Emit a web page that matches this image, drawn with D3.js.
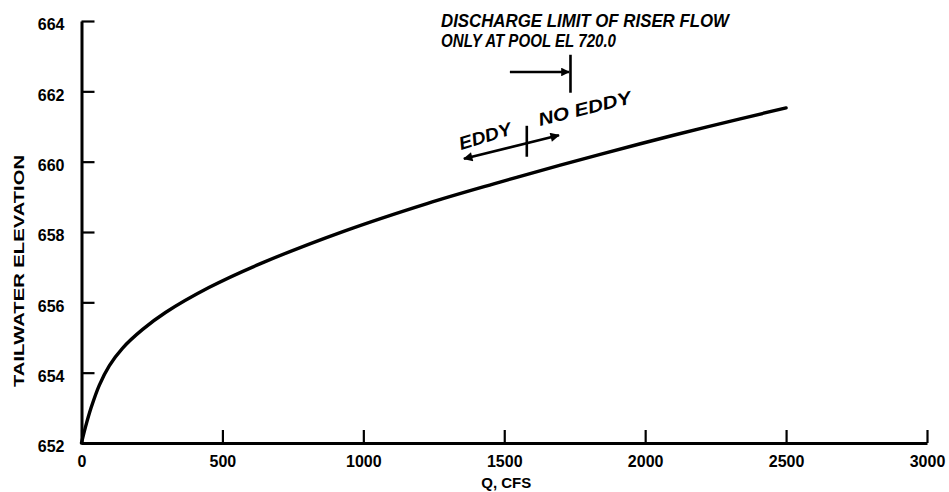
<!DOCTYPE html>
<html>
<head>
<meta charset="utf-8">
<script src="https://cdn.jsdelivr.net/npm/d3@7"></script>
<style>
  html, body { margin: 0; padding: 0; background: #fff; }
  svg { display: block; }
  text { font-family: "Liberation Sans", Arial, sans-serif; fill: #000; }
</style>
</head>
<body>
<svg id="chart" width="949" height="492"></svg>
<script>
// ---- data ----
const flowQ = [0, 14, 34, 63, 99, 146, 217, 298, 452, 635, 930, 1226, 1463, 1699, 1983, 2220, 2500];
const tailwaterEl = [652.0, 652.45, 653.00, 653.64, 654.20, 654.70, 655.23, 655.71, 656.42, 657.10, 658.02, 658.81, 659.37, 659.90, 660.51, 660.99, 661.53];
const xTicks = [0, 500, 1000, 1500, 2000, 2500, 3000];
const yTicks = [652, 654, 656, 658, 660, 662, 664];
// annotation values (data space)
const riserLimitQ = 1735;
const riserArrowStartQ = 1520;
const riserArrowEl = 662.55;
const riserBarEl = [661.96, 663.04];
const eddyArrowQ = [1357, 1694];
const eddyArrowEl = [660.08, 660.75];
const eddySplitQ = 1580;
const eddySplitEl = [660.14, 661.02];
const titleLines = ["DISCHARGE LIMIT OF RISER FLOW", "ONLY AT POOL EL 720.0"];

// ---- layout ----
const svg = d3.select("#chart");
const x = d3.scaleLinear().domain([0, 3000]).range([81.5, 927]);
const y = d3.scaleLinear().domain([652, 664]).range([443, 21]);

// defs: arrowheads
const defs = svg.append("defs");
defs.append("marker").attr("id", "arrowEnd")
  .attr("viewBox", "0 0 10 10").attr("refX", 9).attr("refY", 5)
  .attr("markerWidth", 6).attr("markerHeight", 3.6).attr("markerUnits", "strokeWidth")
  .attr("orient", "auto")
  .append("path").attr("d", "M0,0 L10,5 L0,10 Z").attr("fill", "#000");
defs.append("marker").attr("id", "arrowStart")
  .attr("viewBox", "0 0 10 10").attr("refX", 1).attr("refY", 5)
  .attr("markerWidth", 6).attr("markerHeight", 3.6).attr("markerUnits", "strokeWidth")
  .attr("orient", "auto")
  .append("path").attr("d", "M10,0 L0,5 L10,10 Z").attr("fill", "#000");

// axes
const xAxis = d3.axisBottom(x).tickValues(xTicks).tickSizeInner(-13).tickSizeOuter(0).tickPadding(12).tickFormat(d3.format("d"));
const yAxis = d3.axisLeft(y).tickValues(yTicks).tickSizeInner(-13).tickSizeOuter(0).tickPadding(17).tickFormat(d3.format("d"));

const gx = svg.append("g").attr("transform", `translate(0,${y(652)})`).call(xAxis);
const gy = svg.append("g").attr("transform", `translate(${x(0)},0)`).call(yAxis);

[gx, gy].forEach(g => {
  g.select(".domain").attr("stroke", "#000").attr("stroke-width", 3);
  g.selectAll(".tick line").attr("stroke", "#000").attr("stroke-width", 2.2);
  g.selectAll(".tick text").attr("font-size", 16).attr("font-weight", "bold")
    .attr("font-family", "'Liberation Sans', Arial, sans-serif").attr("fill", "#000");
});
gy.selectAll(".tick text").attr("dy", "0.55em");
gx.selectAll(".tick text").attr("dy", "0.72em");

// axis titles
svg.append("text")
  .attr("x", (x(0) + x(3000)) / 2 + 2).attr("y", 488)
  .attr("text-anchor", "middle").attr("font-size", 15).attr("font-weight", "bold")
  .text("Q, CFS");
svg.append("text")
  .attr("transform", `translate(24, 271) rotate(-90)`)
  .attr("text-anchor", "middle").attr("font-size", 15).attr("font-weight", "bold")
  .attr("textLength", 232).attr("lengthAdjust", "spacingAndGlyphs")
  .text("TAILWATER ELEVATION");

// curve
const line = d3.line().x(d => x(d[0])).y(d => y(d[1])).curve(d3.curveCatmullRom.alpha(0.5));
svg.append("path")
  .datum(flowQ.map((q, i) => [q, tailwaterEl[i]]))
  .attr("d", line)
  .attr("fill", "none").attr("stroke", "#000").attr("stroke-width", 3.4)
  .attr("stroke-linecap", "round").attr("stroke-linejoin", "round");

// riser-limit annotation
svg.append("line")
  .attr("x1", x(riserArrowStartQ)).attr("y1", y(riserArrowEl))
  .attr("x2", x(riserLimitQ) - 1.5).attr("y2", y(riserArrowEl))
  .attr("stroke", "#000").attr("stroke-width", 2.4).attr("marker-end", "url(#arrowEnd)");
svg.append("line")
  .attr("x1", x(riserLimitQ)).attr("y1", y(riserBarEl[0]))
  .attr("x2", x(riserLimitQ)).attr("y2", y(riserBarEl[1]))
  .attr("stroke", "#000").attr("stroke-width", 2.6);

titleLines.forEach((t, i) => {
  svg.append("text")
    .attr("x", 441).attr("y", 27 + i * 20)
    .attr("font-size", 18).attr("font-weight", "bold").attr("font-style", "italic")
    .attr("textLength", i === 0 ? 288 : 175).attr("lengthAdjust", "spacingAndGlyphs")
    .text(t);
});

// eddy annotation
svg.append("line")
  .attr("x1", x(eddyArrowQ[0])).attr("y1", y(eddyArrowEl[0]))
  .attr("x2", x(eddyArrowQ[1])).attr("y2", y(eddyArrowEl[1]))
  .attr("stroke", "#000").attr("stroke-width", 2.6)
  .attr("marker-start", "url(#arrowStart)").attr("marker-end", "url(#arrowEnd)");
svg.append("line")
  .attr("x1", x(eddySplitQ)).attr("y1", y(eddySplitEl[0]))
  .attr("x2", x(eddySplitQ)).attr("y2", y(eddySplitEl[1]))
  .attr("stroke", "#000").attr("stroke-width", 2.6);

const ang = Math.atan2(y(eddyArrowEl[1]) - y(eddyArrowEl[0]), x(eddyArrowQ[1]) - x(eddyArrowQ[0])) * 180 / Math.PI;
svg.append("text")
  .attr("transform", `translate(461,150) rotate(${ang - 3})`)
  .attr("font-size", 18).attr("font-weight", "bold").attr("font-style", "italic")
  .attr("textLength", 54).attr("lengthAdjust", "spacingAndGlyphs")
  .text("EDDY");
svg.append("text")
  .attr("transform", `translate(540,126) rotate(${ang})`)
  .attr("font-size", 18).attr("font-weight", "bold").attr("font-style", "italic")
  .attr("textLength", 95).attr("lengthAdjust", "spacingAndGlyphs")
  .text("NO EDDY");
</script>
</body>
</html>
